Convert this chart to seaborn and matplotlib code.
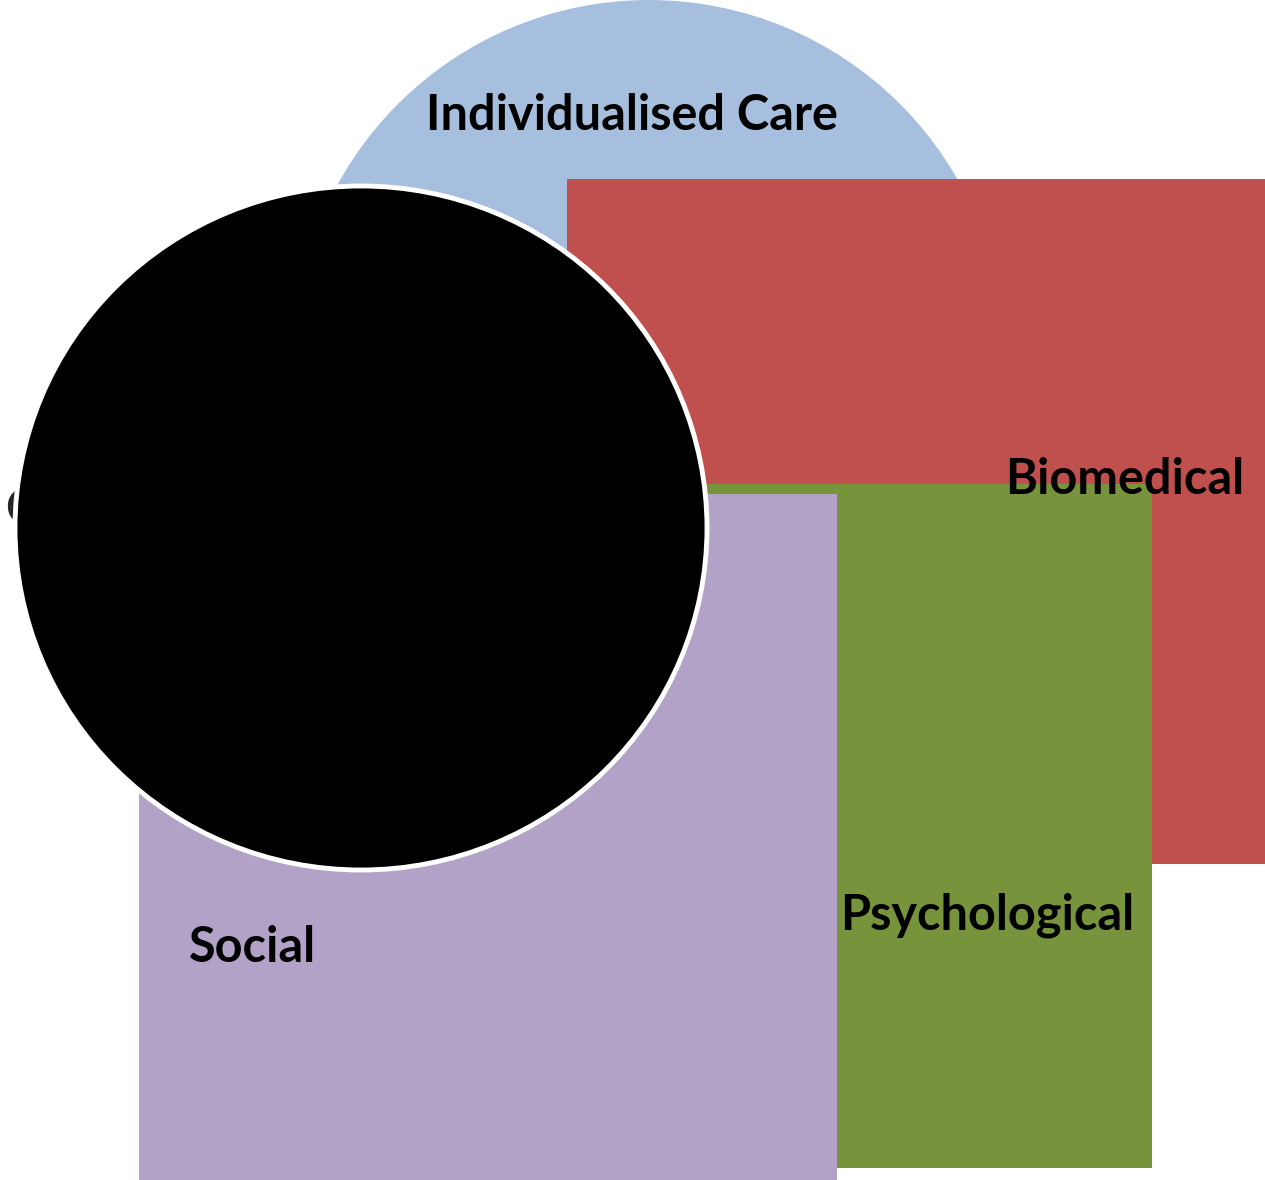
import matplotlib
matplotlib.use("Agg")
import matplotlib.pyplot as plt
import seaborn as sns
from matplotlib.patches import Rectangle, Ellipse

# shapes in pixel coordinates of the original diagram (x, y from top-left)
labels = ["Individualised Care", "Biomedical", "Psychological", "Social"]
label_x = [632, 1125, 987, 253]
label_y = [115, 479, 915, 948]

circle_center = (649, 355)
circle_radius = 355

rect_names = ["Biomedical", "Psychological", "Social"]
rect_left = [567, 700, 139]
rect_top = [179, 484, 494]
rect_right = [1265, 1152, 837]
rect_bottom = [864, 1168, 1180]
rect_colors = ["#C0504D", "#77933C", "#B3A2C7"]

black_center = (361, 528)
black_w = 692
black_h = 684

sns.set_theme(style="white")
plt.rcParams['font.family'] = ['Lato', 'DejaVu Sans']

fig = plt.figure(figsize=(12.65, 11.8), dpi=100)
ax = fig.add_axes([0, 0, 1, 1])
ax.set_xlim(0, 1265)
ax.set_ylim(1180, 0)
ax.set_axis_off()

ax.add_patch(Ellipse(circle_center, 2 * circle_radius, 2 * circle_radius,
                     facecolor="#A7BFDE", edgecolor="none", zorder=1))

for i in range(len(rect_names)):
    ax.add_patch(Rectangle((rect_left[i], rect_top[i]),
                           rect_right[i] - rect_left[i],
                           rect_bottom[i] - rect_top[i],
                           facecolor=rect_colors[i], edgecolor="none", zorder=2 + i))

# label mostly hidden behind the black circle
ax.text(5, 510, "Context", fontsize=35, fontweight="bold", ha="left", va="center", zorder=6)

ax.add_patch(Ellipse(black_center, black_w, black_h, facecolor="black",
                     edgecolor="white", linewidth=3.5, zorder=7))

for t, x, y in zip(labels, label_x, label_y):
    ax.text(x, y, t, fontsize=35, fontweight="bold", ha="center", va="center",
            color="black", zorder=8)

fig.savefig("out.png", dpi=100)
